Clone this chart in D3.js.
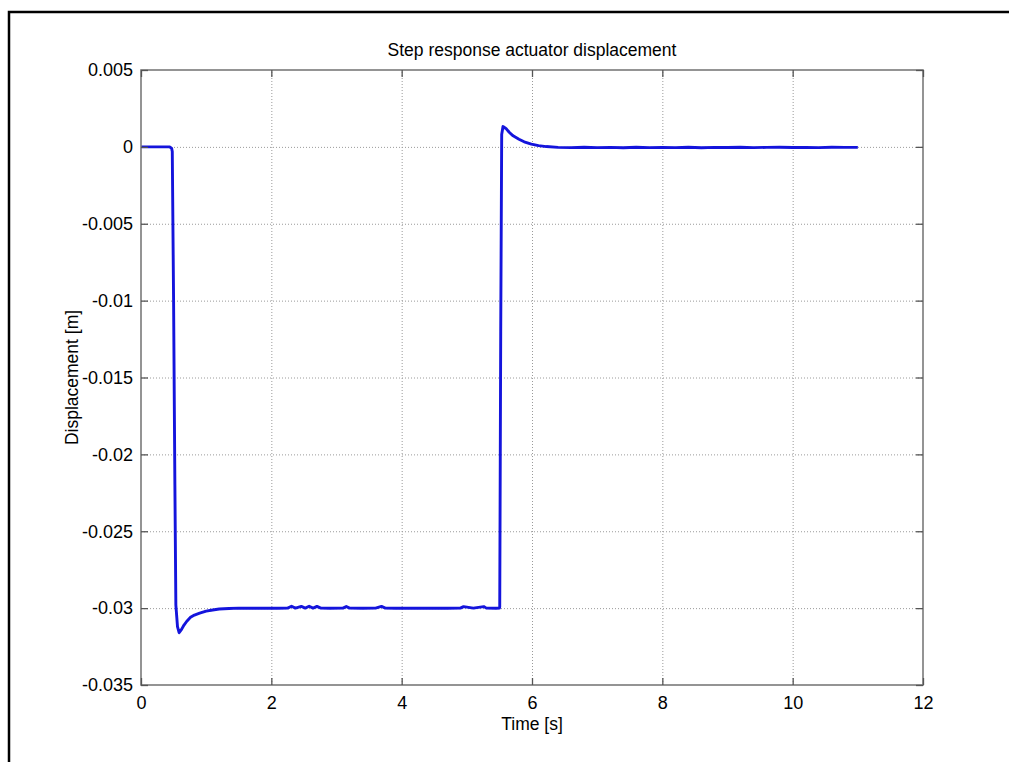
<!DOCTYPE html>
<html>
<head>
<meta charset="utf-8">
<script src="https://cdn.jsdelivr.net/npm/d3@7/dist/d3.min.js"></script>
<style>
  html, body { margin: 0; padding: 0; background: #fff; }
  svg { display: block; }
  text { font-family: "Liberation Sans", Arial, Helvetica, sans-serif; fill: #000; }
</style>
</head>
<body>
<svg id="chart" width="1009" height="762"></svg>
<script>
// ---- data ----
const chartTitle = "Step response actuator displacement";
const xLabel = "Time [s]";
const yLabel = "Displacement [m]";
const xTicks = [0, 2, 4, 6, 8, 10, 12];
const xTickLabels = ["0", "2", "4", "6", "8", "10", "12"];
const yTicks = [0.005, 0, -0.005, -0.01, -0.015, -0.02, -0.025, -0.03, -0.035];
const yTickLabels = ["0.005", "0", "-0.005", "-0.01", "-0.015", "-0.02", "-0.025", "-0.03", "-0.035"];

const timeS = [
  0, 0.20, 0.44, 0.47, 0.48, 0.50, 0.52, 0.535, 0.56, 0.585, 0.62, 0.66, 0.70, 0.76, 0.82, 0.90,
  1.00, 1.10, 1.20, 1.35, 1.50, 1.70, 1.90, 2.10, 2.25, 2.31, 2.37, 2.46, 2.52, 2.58, 2.64, 2.70,
  2.76, 2.90, 3.10, 3.15, 3.20, 3.40, 3.60, 3.69, 3.75, 3.90, 4.10, 4.30, 4.50, 4.70, 4.90, 4.95,
  5.10, 5.26, 5.30, 5.45, 5.50, 5.505, 5.52, 5.535, 5.555, 5.60, 5.65, 5.71, 5.80, 5.88, 5.99,
  6.10, 6.22, 6.40, 6.60, 6.80, 7.00, 7.20, 7.40, 7.60, 7.80, 8.00, 8.20, 8.40, 8.60, 8.80, 9.00,
  9.20, 9.40, 9.60, 9.80, 10.00, 10.20, 10.40, 10.60, 10.80, 11.00
];
const displacementM = [
  0, 0, 0, -0.0001, -0.0003, -0.010, -0.022, -0.0298, -0.0312, -0.0316, -0.0314, -0.0311, -0.03087, -0.0306, -0.03045, -0.03033,
  -0.0302, -0.03012, -0.03006, -0.03002, -0.0300, -0.03001, -0.0300, -0.03001, -0.0300, -0.02988, -0.0300, -0.02989, -0.0300, -0.02988, -0.0300, -0.02989,
  -0.0300, -0.03001, -0.0300, -0.02989, -0.0300, -0.03001, -0.0300, -0.02989, -0.0300, -0.03001, -0.0300, -0.03001, -0.0300, -0.03001, -0.0300, -0.02990,
  -0.0300, -0.02990, -0.0300, -0.03001, -0.0300, -0.0299, -0.012, 0.0008, 0.00132, 0.0012, 0.00095, 0.00072, 0.0005, 0.00033, 0.00018,
  0.00008, 0.00002, -0.00003, -0.00005, -0.00002, -0.00005, -0.00003, -0.00006, -0.00002, -0.00005, -0.00003, -0.00005, -0.00002, -0.00006, -0.00003, -0.00004,
  -0.00002, -0.00005, -0.00003, -0.00002, -0.00004, -0.00003, -0.00005, -0.00002, -0.00003, -0.00003
];

// ---- layout ----
const svg = d3.select("#chart");
const W = 1009, H = 762;
const plot = { left: 141, top: 70, right: 923, bottom: 685 };
const pw = plot.right - plot.left, ph = plot.bottom - plot.top;

svg.append("rect").attr("width", W).attr("height", H).attr("fill", "#fff");

// outer frame (top + left edges visible)
svg.append("path")
  .attr("d", `M9,${H} V12 H${W}`)
  .attr("fill", "none").attr("stroke", "#000").attr("stroke-width", 2.5);

const x = d3.scaleLinear().domain([0, 12]).range([plot.left, plot.right]);
const y = d3.scaleLinear().domain([-0.035, 0.005]).range([plot.bottom, plot.top]);

const g = svg.append("g");

// grid
const gridX = g.append("g").attr("transform", `translate(0,${plot.bottom})`)
  .call(d3.axisBottom(x).tickValues(xTicks.filter(v => v > 0 && v < 12)).tickSize(-ph).tickFormat(""));
gridX.select(".domain").remove();
gridX.selectAll("line").attr("stroke", "#9a9a9a").attr("stroke-width", 1).attr("stroke-dasharray", "1,2");

const gridY = g.append("g").attr("transform", `translate(${plot.left},0)`)
  .call(d3.axisLeft(y).tickValues(yTicks.filter(v => v > -0.035 && v < 0.005)).tickSize(-pw).tickFormat(""));
gridY.select(".domain").remove();
gridY.selectAll("line").attr("stroke", "#9a9a9a").attr("stroke-width", 1).attr("stroke-dasharray", "1,2");

// data line
const line = d3.line().x((d, i) => x(timeS[i])).y(d => y(d));
g.append("path")
  .datum(displacementM)
  .attr("d", line)
  .attr("fill", "none")
  .attr("stroke", "#1414dc")
  .attr("stroke-width", 2.9)
  .attr("stroke-linejoin", "round");

// box
g.append("rect")
  .attr("x", plot.left).attr("y", plot.top).attr("width", pw).attr("height", ph)
  .attr("fill", "none").attr("stroke", "#7a7a7a").attr("stroke-width", 1.6);

const tickLen = 7;
const fmtX = d => xTickLabels[xTicks.indexOf(d)];
const fmtY = d => yTickLabels[yTicks.indexOf(d)];
const font = '"Liberation Sans", Arial, sans-serif';

// bottom axis (inward ticks + labels)
const axB = g.append("g").attr("transform", `translate(0,${plot.bottom})`)
  .call(d3.axisBottom(x).tickValues(xTicks).tickSize(-tickLen).tickPadding(11).tickFormat(fmtX));
axB.select(".domain").remove();
axB.selectAll("line").attr("stroke", "#555").attr("stroke-width", 1.3);
axB.selectAll("text").attr("font-size", "18px").attr("font-family", font).attr("fill", "#000");

// top axis ticks
const axT = g.append("g").attr("transform", `translate(0,${plot.top})`)
  .call(d3.axisTop(x).tickValues(xTicks).tickSize(-tickLen).tickFormat(""));
axT.select(".domain").remove();
axT.selectAll("line").attr("stroke", "#555").attr("stroke-width", 1.3);

// left axis
const axL = g.append("g").attr("transform", `translate(${plot.left},0)`)
  .call(d3.axisLeft(y).tickValues(yTicks).tickSize(-tickLen).tickPadding(8).tickFormat(fmtY));
axL.select(".domain").remove();
axL.selectAll("line").attr("stroke", "#555").attr("stroke-width", 1.3);
axL.selectAll("text").attr("font-size", "18px").attr("font-family", font).attr("fill", "#000");

// right axis ticks
const axR = g.append("g").attr("transform", `translate(${plot.right},0)`)
  .call(d3.axisRight(y).tickValues(yTicks).tickSize(-tickLen).tickFormat(""));
axR.select(".domain").remove();
axR.selectAll("line").attr("stroke", "#555").attr("stroke-width", 1.3);

// titles
svg.append("text").attr("x", (plot.left + plot.right) / 2).attr("y", 56)
  .attr("text-anchor", "middle").attr("font-size", "17.5px").text(chartTitle);
svg.append("text").attr("x", (plot.left + plot.right) / 2).attr("y", 730)
  .attr("text-anchor", "middle").attr("font-size", "17.5px").text(xLabel);
svg.append("text")
  .attr("transform", `translate(78,${(plot.top + plot.bottom) / 2}) rotate(-90)`)
  .attr("text-anchor", "middle").attr("font-size", "17.5px").text(yLabel);
</script>
</body>
</html>
